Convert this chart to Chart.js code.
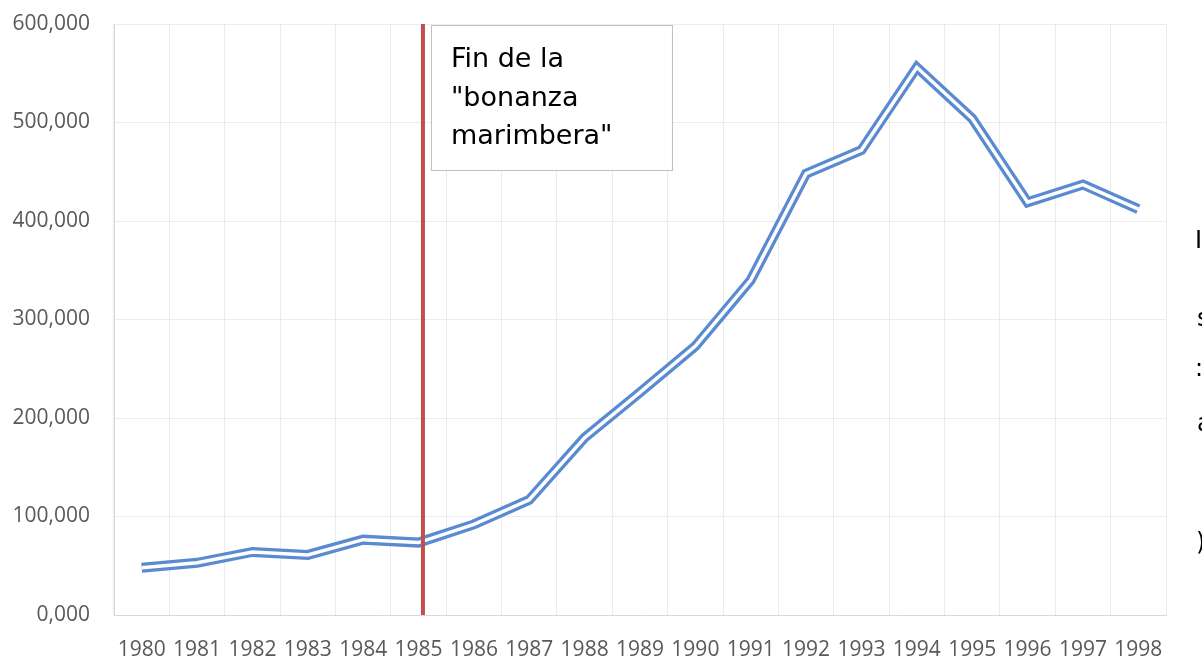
<!DOCTYPE html>
<html>
<head>
<meta charset="utf-8">
<script src="https://cdn.jsdelivr.net/npm/chart.js@4.4.0/dist/chart.umd.min.js"></script>
<style>
  html, body { margin: 0; padding: 0; background: #fff; }
  #wrap { width: 1202px; height: 660px; overflow: hidden; }
</style>
</head>
<body>
<div id="wrap"><canvas id="chart" width="1202" height="660"></canvas></div>
<script>
const years = ["1980", "1981", "1982", "1983", "1984", "1985", "1986", "1987", "1988", "1989",
  "1990", "1991", "1992", "1993", "1994", "1995", "1996", "1997", "1998"];
const values = [48000, 53000, 64000, 61000, 76500, 73500, 92000, 117000, 180000, 226000,
  273000, 340000, 448000, 472000, 556000, 504000, 419000, 437000, 412000];
const yTickLabels = ["0,000", "100,000", "200,000", "300,000", "400,000", "500,000", "600,000"];
const noteLines = ["Fin de la", "\"bonanza", "marimbera\""];
const markerIndex = 5.08; // a bit right of 1985

const lineColor = "#5a8ad0";

// red line, note box and clipped text on the right edge
const extras = {
  id: "extras",
  afterDatasetsDraw(chart) {
    const ctx = chart.ctx;
    const area = chart.chartArea;
    const x = chart.scales.x.getPixelForValue(markerIndex);
    ctx.save();
    ctx.strokeStyle = "#c0504d";
    ctx.lineWidth = 4;
    ctx.beginPath();
    ctx.moveTo(x, area.top);
    ctx.lineTo(x, area.bottom);
    ctx.stroke();

    // note box
    const bx = x + 8, by = area.top + 1, bw = 241, bh = 145;
    ctx.fillStyle = "#fff";
    ctx.fillRect(bx, by, bw, bh);
    ctx.strokeStyle = "#bfbfbf";
    ctx.lineWidth = 1;
    ctx.strokeRect(bx + 0.5, by + 0.5, bw, bh);
    ctx.fillStyle = "#000";
    ctx.font = "27px 'DejaVu Sans'";
    ctx.textBaseline = "alphabetic";
    noteLines.forEach((t, i) => ctx.fillText(t, bx + 20, by + 42 + i * 38.5));
    ctx.restore();
  },
  afterDraw(chart) {
    const ctx = chart.ctx;
    ctx.save();
    ctx.fillStyle = "#000";
    ctx.font = "24px 'DejaVu Sans'";
    ctx.textBaseline = "alphabetic";
    ctx.fillText("I", 1195, 248);
    ctx.fillText("s", 1197, 326);
    ctx.fillText(":", 1195, 376);
    ctx.fillText("a", 1197, 431);
    ctx.fillText(")", 1196, 550);
    ctx.restore();
  }
};

new Chart(document.getElementById("chart"), {
  type: "line",
  data: {
    labels: years,
    datasets: [
      { data: values, borderColor: "#ffffff", borderWidth: 3.5, pointRadius: 0, tension: 0 },
      { data: values, borderColor: lineColor, borderWidth: 10, pointRadius: 0, tension: 0 }
    ]
  },
  options: {
    responsive: false,
    animation: false,
    devicePixelRatio: 1,
    layout: { padding: { top: 24, right: 36, left: 0, bottom: 0 } },
    plugins: { legend: { display: false }, tooltip: { enabled: false } },
    scales: {
      x: {
        offset: true,
        grid: { offset: true, color: "#ececec", drawTicks: false },
        border: { color: "#d9d9d9" },
        ticks: { color: "#595959", font: { family: "'Open Sans'", size: 21 }, padding: 22, maxRotation: 0, autoSkip: false },
        afterFit(s) { s.height = 45; }
      },
      y: {
        min: 0,
        max: 600000,
        grid: { color: "#ececec", tickLength: 24, tickColor: "rgba(0,0,0,0)" },
        border: { color: "#d9d9d9" },
        ticks: {
          stepSize: 100000,
          color: "#595959",
          font: { family: "'Open Sans'", size: 21 },
          padding: 0,
          callback: (v, i) => yTickLabels[i]
        },
        afterFit(s) { s.width = 114; }
      }
    }
  },
  plugins: [extras]
});
</script>
</body>
</html>
